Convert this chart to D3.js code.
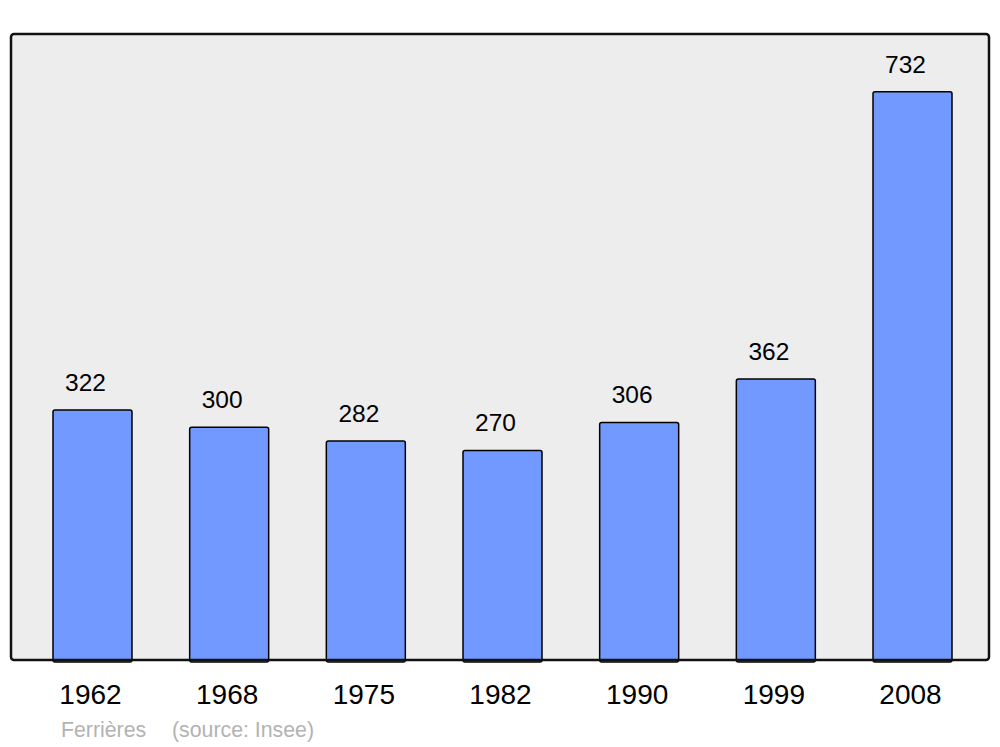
<!DOCTYPE html>
<html><head><meta charset="utf-8">
<script src="https://cdn.jsdelivr.net/npm/d3@7"></script>
<style>html,body{margin:0;padding:0;background:#fff;}svg{display:block;}</style>
</head><body>
<script>
const years = ["1962","1968","1975","1982","1990","1999","2008"];
const population = [322,300,282,270,306,362,732];
const commune = "Ferrières";
const source = "(source: Insee)";

const W = 1000, H = 747;
const svg = d3.select("body").append("svg").attr("width", W).attr("height", H);
const font = "Liberation Sans, Arial, sans-serif";

const frame = {x0: 11, y0: 34, x1: 989, y1: 660};

svg.append("rect")
  .attr("x", frame.x0).attr("y", frame.y0)
  .attr("width", frame.x1 - frame.x0).attr("height", frame.y1 - frame.y0)
  .attr("rx", 3).attr("fill", "#ededed");

const x = d3.scaleBand().domain(years).range([53, 952]).paddingInner(0.422).paddingOuter(0);
const y = d3.scaleLinear().domain([0, 806.5]).range([frame.y1, frame.y0]);

svg.selectAll("rect.bar").data(years).enter().append("rect")
  .attr("class", "bar")
  .attr("x", d => x(d))
  .attr("y", (d, i) => y(population[i]))
  .attr("width", x.bandwidth())
  .attr("height", (d, i) => y(0) - y(population[i]) + 2)
  .attr("rx", 2)
  .attr("fill", "#7299ff")
  .attr("stroke", "#000").attr("stroke-width", 1.5);

svg.selectAll("text.val").data(years).enter().append("text")
  .attr("x", d => x(d) + x.bandwidth() / 2 - 7)
  .attr("y", (d, i) => y(population[i]) - 19)
  .attr("text-anchor", "middle")
  .attr("font-family", font).attr("font-size", 24.5)
  .attr("fill", "#000")
  .text((d, i) => population[i]);

// frame outline on top
svg.append("rect")
  .attr("x", frame.x0).attr("y", frame.y0)
  .attr("width", frame.x1 - frame.x0).attr("height", frame.y1 - frame.y0)
  .attr("rx", 3).attr("fill", "none")
  .attr("stroke", "#111").attr("stroke-width", 2.5);

const xAxis = d3.axisBottom(x).tickSize(0).tickPadding(0);
const gx = svg.append("g").attr("transform", `translate(-2, ${frame.y1})`).call(xAxis);
gx.select(".domain").remove();
gx.selectAll("text")
  .attr("y", 44).attr("dy", null)
  .attr("font-family", font).attr("font-size", 28).attr("fill", "#000");

svg.append("text").attr("x", 61).attr("y", 737)
  .attr("font-family", font).attr("font-size", 21.3).attr("fill", "#b3b3b3")
  .text(commune);
svg.append("text").attr("x", 172).attr("y", 737)
  .attr("font-family", font).attr("font-size", 21.3).attr("fill", "#b3b3b3")
  .text(source);
</script>
</body></html>
